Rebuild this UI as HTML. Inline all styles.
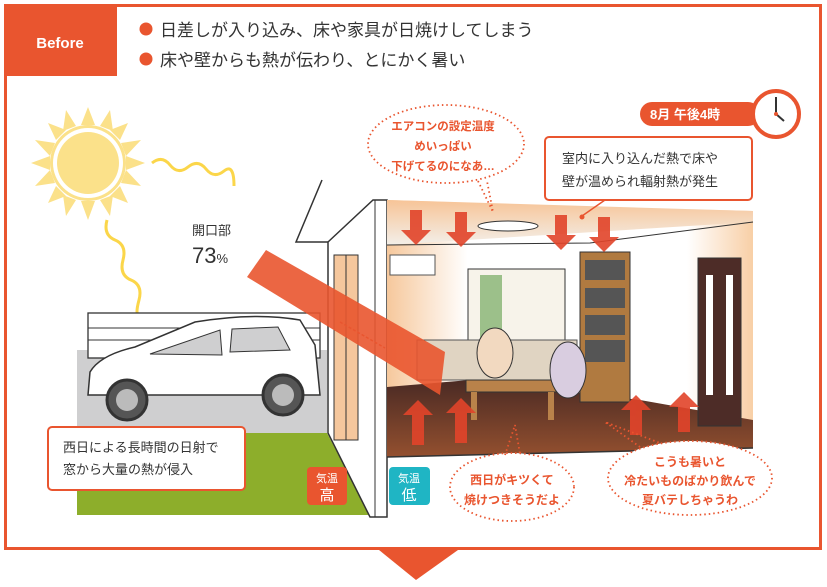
<!DOCTYPE html>
<html><head><meta charset="utf-8"><style>
html,body{margin:0;padding:0;background:#fff}
body{width:827px;height:582px;overflow:hidden;font-family:"Liberation Sans","Noto Sans CJK JP",sans-serif}
</style></head><body>
<svg width="827" height="582" viewBox="0 0 827 582" xmlns="http://www.w3.org/2000/svg" font-family="Liberation Sans, Noto Sans CJK JP, sans-serif">
<defs>
<linearGradient id="wall" x1="0" y1="0" x2="1" y2="0"><stop offset="0" stop-color="#f6c89c"/><stop offset="0.22" stop-color="#fff"/><stop offset="0.82" stop-color="#fff"/><stop offset="1" stop-color="#f8cfa6"/></linearGradient>
<linearGradient id="ceil" x1="0" y1="0" x2="0" y2="1"><stop offset="0" stop-color="#f7c497"/><stop offset="1" stop-color="#f3efe9"/></linearGradient>
<linearGradient id="floor" x1="0" y1="0" x2="0" y2="1"><stop offset="0" stop-color="#4a2a24"/><stop offset="1" stop-color="#94502f"/></linearGradient>
</defs>
<rect x="5.5" y="5.5" width="815" height="543" fill="#fff" stroke="#e9552f" stroke-width="3"/>
<rect x="4" y="4" width="113" height="72" fill="#e9552f"/>
<text x="60" y="48" font-size="15" fill="#fff" text-anchor="middle" font-weight="bold">Before</text>
<polygon points="379,550 458,550 416,580" fill="#e9552f"/>
<circle cx="146" cy="29" r="6.5" fill="#e9552f"/>
<text x="160" y="36" font-size="17" fill="#333">日差しが入り込み、床や家具が日焼けしてしまう</text>
<circle cx="146" cy="59" r="6.5" fill="#e9552f"/>
<text x="160" y="66" font-size="17" fill="#333">床や壁からも熱が伝わり、とにかく暑い</text>

<g fill="#fbe18a">
<polygon points="88,107 95,125 81,125"/><polygon points="88,220 95,201 81,201"/>
<polygon points="31,163 50,156 50,170"/><polygon points="145,163 126,156 126,170"/>
<polygon points="48,123 66,130 56,140"/><polygon points="128,203 110,196 120,186"/>
<polygon points="128,123 120,140 110,130"/><polygon points="48,203 56,186 66,196"/>
<polygon points="66,110 76,126 63,131"/><polygon points="110,110 113,131 100,126"/>
<polygon points="66,216 63,195 76,200"/><polygon points="110,216 100,200 113,195"/>
<polygon points="35,140 55,143 50,156"/><polygon points="141,140 126,156 121,143"/>
<polygon points="35,186 50,170 55,183"/><polygon points="141,186 121,183 126,170"/>
</g>
<circle cx="88" cy="163" r="38" fill="#fbe18a"/>
<circle cx="88" cy="163" r="35" fill="#fff"/>
<circle cx="88" cy="163" r="31" fill="#fbe18a"/>
<path d="M152,163 q10,-8 18,2 t18,2 t18,2 t18,2 t10,15" fill="none" stroke="#fbd64a" stroke-width="3"/>
<path d="M107,220 q-4,15 8,20 t8,20 t8,20 t8,20 t0,15" fill="none" stroke="#fbd64a" stroke-width="3"/>

<text x="192" y="235" font-size="13" fill="#333">開口部</text>
<text x="192" y="263" font-size="22" fill="#333">73<tspan font-size="13">%</tspan></text>

<rect x="77" y="350" width="250" height="85" fill="#cfcfd0"/>
<rect x="88" y="313" width="232" height="45" fill="#fff" stroke="#333" stroke-width="1.3"/>
<line x1="88" y1="328" x2="320" y2="328" stroke="#333"/><line x1="88" y1="340" x2="320" y2="340" stroke="#333"/>
<polygon points="77,433 327,433 370,515 77,515" fill="#8dae2b"/>
<path d="M88,395 L90,372 Q100,355 135,347 L195,322 Q255,312 300,320 L315,345 L320,395 Z" fill="#fff" stroke="#333" stroke-width="1.5"/>
<path d="M150,354 L220,330 L222,355 Z" fill="#cfcfd0" stroke="#333"/>
<path d="M232,329 L278,327 L290,350 L230,352 Z" fill="#cfcfd0" stroke="#333"/>
<circle cx="127" cy="400" r="20" fill="#555" stroke="#333" stroke-width="3"/><circle cx="127" cy="400" r="11" fill="#bbb"/>
<circle cx="283" cy="395" r="20" fill="#555" stroke="#333" stroke-width="3"/><circle cx="283" cy="395" r="11" fill="#bbb"/>

<polyline points="322,180 296,242 328,242" fill="none" stroke="#333" stroke-width="1.5"/>
<polygon points="328,242 373,200 387,200 387,517 370,517 328,433" fill="#fff" stroke="#333" stroke-width="1.5"/>
<line x1="375" y1="200" x2="375" y2="517" stroke="#333"/>
<rect x="334" y="255" width="24" height="185" fill="#f5c79d" stroke="#333"/>
<line x1="346" y1="255" x2="346" y2="440" stroke="#333"/>
<polygon points="387,200 753,211 753,448 387,457" fill="url(#wall)"/>
<polygon points="387,200 753,211 753,222 387,245" fill="url(#ceil)"/>
<polygon points="387,387 470,380 640,400 753,420 753,448 387,457" fill="url(#floor)"/>
<polyline points="387,245 590,243 753,222" fill="none" stroke="#333"/>
<line x1="387" y1="457" x2="753" y2="448" stroke="#333" stroke-width="1.5"/>
<rect x="468" y="269" width="97" height="110" fill="#f7f3ea" stroke="#333"/>
<rect x="480" y="275" width="22" height="95" fill="#9cc08a"/>
<rect x="580" y="252" width="50" height="150" fill="#b07a40" stroke="#333"/>
<g fill="#555"><rect x="585" y="260" width="40" height="20"/><rect x="585" y="288" width="40" height="20"/><rect x="585" y="315" width="40" height="20"/><rect x="585" y="340" width="40" height="22"/></g>
<rect x="698" y="258" width="43" height="168" fill="#4d2c27" stroke="#333"/>
<rect x="706" y="275" width="7" height="120" fill="#fff"/><rect x="726" y="275" width="7" height="120" fill="#fff"/>
<rect x="390" y="255" width="45" height="20" fill="#fff" stroke="#555"/>
<path d="M417,340 h160 v40 h-160z" fill="#e0d4c2" stroke="#555"/>
<rect x="466" y="380" width="92" height="12" fill="#b9824a" stroke="#333"/>
<rect x="471" y="392" width="6" height="28" fill="#b9824a"/><rect x="548" y="392" width="6" height="28" fill="#b9824a"/>
<ellipse cx="495" cy="353" rx="18" ry="25" fill="#f2d9c0" stroke="#333"/>
<ellipse cx="568" cy="370" rx="18" ry="28" fill="#d9cde0" stroke="#333"/>
<ellipse cx="508" cy="226" rx="30" ry="5" fill="#fff" stroke="#333"/>

<polygon points="247,277 266,250 445,352 440,395" fill="#e9552f" opacity="0.9"/>
<line x1="340" y1="322" x2="385" y2="348" stroke="#e9552f" stroke-dasharray="3,2" stroke-width="1.5"/>

<g fill="#e2442a" opacity="0.9">
<path d="M410,210 h12 v20 h9 l-15,15 l-15,-15 h9z"/>
<path d="M455,212 h12 v20 h9 l-15,15 l-15,-15 h9z"/>
<path d="M555,215 h12 v20 h9 l-15,15 l-15,-15 h9z"/>
<path d="M598,217 h12 v20 h9 l-15,15 l-15,-15 h9z"/>
<path d="M412,445 h12 v-30 h9 l-15,-15 l-15,15 h9z"/>
<path d="M455,443 h12 v-30 h9 l-15,-15 l-15,15 h9z"/>
<path d="M630,435 h12 v-25 h9 l-15,-15 l-15,15 h9z"/>
<path d="M678,432 h12 v-25 h9 l-15,-15 l-15,15 h9z"/>
</g>

<rect x="48" y="427" width="197" height="63" rx="4" fill="#fff" stroke="#e9552f" stroke-width="2"/>
<text x="63" y="452" font-size="13" fill="#333">西日による長時間の日射で</text>
<text x="63" y="474" font-size="13" fill="#333">窓から大量の熱が侵入</text>

<rect x="640" y="102" width="120" height="24" rx="12" fill="#e9552f"/>
<text x="650" y="119" font-size="13" fill="#fff" font-weight="bold">8月 午後4時</text>
<circle cx="776" cy="114" r="23" fill="#fff" stroke="#e9552f" stroke-width="4"/>
<line x1="776" y1="114" x2="776" y2="97" stroke="#333" stroke-width="2"/><line x1="776" y1="114" x2="784" y2="121" stroke="#333" stroke-width="2"/>
<circle cx="776" cy="114" r="2" fill="#e9552f"/>
<rect x="545" y="137" width="207" height="63" rx="4" fill="#fff" stroke="#e9552f" stroke-width="2"/>
<line x1="605" y1="200" x2="582" y2="216" stroke="#e9552f" stroke-width="1.5"/><circle cx="582" cy="217" r="2.5" fill="#e9552f"/>
<text x="562" y="163" font-size="13" fill="#333">室内に入り込んだ熱で床や</text>
<text x="562" y="186" font-size="13" fill="#333">壁が温められ輻射熱が発生</text>

<g fill="#fff" stroke="#e9552f" stroke-width="1.8" stroke-dasharray="1.5,3">
<ellipse cx="446" cy="144" rx="78" ry="39"/>
<ellipse cx="512" cy="487" rx="62" ry="34"/>
<ellipse cx="690" cy="478" rx="82" ry="37"/>
</g>
<g fill="none" stroke="#e9552f" stroke-width="1.8" stroke-dasharray="1.5,3">
<polyline points="478,181 493,212 487,181"/>
<polyline points="505,455 515,425 520,454"/>
<polyline points="640,447 605,422 660,443"/>
</g>
<g font-size="12" fill="#e9552f" font-weight="bold" text-anchor="middle">
<text x="443" y="130" font-size="11.5">エアコンの設定温度</text>
<text x="443" y="150" font-size="11.5">めいっぱい</text>
<text x="443" y="170" font-size="11.5">下げてるのになあ…</text>
<text x="512" y="484">西日がキツくて</text>
<text x="512" y="504">焼けつきそうだよ</text>
<text x="690" y="466">こうも暑いと</text>
<text x="690" y="485">冷たいものばかり飲んで</text>
<text x="690" y="504">夏バテしちゃうわ</text>
</g>
<rect x="307" y="467" width="40" height="38" rx="4" fill="#e9552f"/>
<text x="327" y="482" font-size="11" fill="#fff" text-anchor="middle">気温</text>
<text x="327" y="500" font-size="15" fill="#fff" text-anchor="middle">高</text>
<rect x="389" y="467" width="41" height="38" rx="4" fill="#1fb5c4"/>
<text x="409" y="482" font-size="11" fill="#fff" text-anchor="middle">気温</text>
<text x="409" y="500" font-size="15" fill="#fff" text-anchor="middle">低</text>
</svg>
</body></html>
